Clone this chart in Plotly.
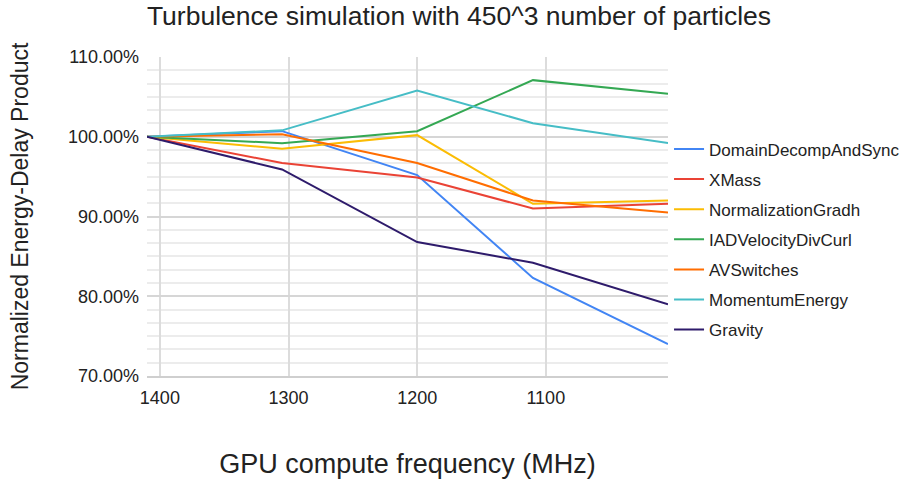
import plotly.graph_objects as go

freq = [1410, 1305, 1200, 1110, 1005]

series_names = [
    "DomainDecompAndSync", "XMass", "NormalizationGradh", "IADVelocityDivCurl",
    "AVSwitches", "MomentumEnergy", "Gravity",
]
domain_decomp = [1.000, 1.007, 0.952, 0.823, 0.740]
xmass = [1.000, 0.967, 0.949, 0.910, 0.916]
norm_gradh = [1.000, 0.985, 1.002, 0.916, 0.920]
iad_velocity = [1.000, 0.992, 1.007, 1.071, 1.054]
av_switches = [1.000, 1.003, 0.967, 0.920, 0.905]
momentum_energy = [1.000, 1.008, 1.058, 1.017, 0.992]
gravity = [1.000, 0.959, 0.868, 0.842, 0.790]

colors = ["#4285F4", "#EA4335", "#FBBC04", "#34A853", "#FF6D01", "#46BDC6", "#2E1B6B"]
values = [domain_decomp, xmass, norm_gradh, iad_velocity, av_switches,
          momentum_energy, gravity]

fig = go.Figure()
for name, ys, col in zip(series_names, values, colors):
    fig.add_trace(go.Scatter(
        x=freq, y=ys, name=name, mode="lines", legendgroup=name,
        line=dict(color=col, width=2),
    ))

font = "Liberation Sans, Arial, sans-serif"
fig.update_layout(
    width=918, height=480,
    margin=dict(l=147, r=250, t=57, b=104),
    paper_bgcolor="white", plot_bgcolor="white",
    font=dict(family=font, color="#222"),
    title=dict(text="Turbulence simulation with 450^3 number of particles",
               x=0.5, xanchor="center", y=0.968, yanchor="middle",
               font=dict(size=26.5, color="#222")),
    legend=dict(x=1.002, y=0.428, xanchor="left", yanchor="middle",
                font=dict(size=17, color="#222"), tracegroupgap=5,
                itemwidth=30, borderwidth=0),
    showlegend=True,
)
fig.update_xaxes(
    range=[1410, 1005], autorange=False,
    tickvals=[1400, 1300, 1200, 1100],
    tickfont=dict(size=18, color="#222"),
    showgrid=True, gridcolor="#dcdcdc", gridwidth=1.5,
    showline=True, linecolor="#cfcfcf", linewidth=1.5,
    ticks="", ticklabelstandoff=5, zeroline=False, automargin=False,
    title=dict(text="GPU compute frequency (MHz)", font=dict(size=27, color="#222"),
               standoff=47),
)
fig.update_yaxes(
    range=[0.7, 1.1], tickvals=[0.7, 0.8, 0.9, 1.0, 1.1], tickformat=".2%",
    tickfont=dict(size=18, color="#222"),
    showgrid=True, gridcolor="#d6d6d6", gridwidth=1.5,
    minor=dict(dtick=0.1 / 6, tick0=0.7, showgrid=True, gridcolor="#ececec", gridwidth=1.5),
    zeroline=False, ticks="", ticklabelstandoff=7, automargin=False,
    title=dict(text="Normalized Energy-Delay Product", font=dict(size=23, color="#222"),
               standoff=32),
)

fig.write_html("out.html", config={"displayModeBar": False},
               post_script="document.body.style.margin='0';")
